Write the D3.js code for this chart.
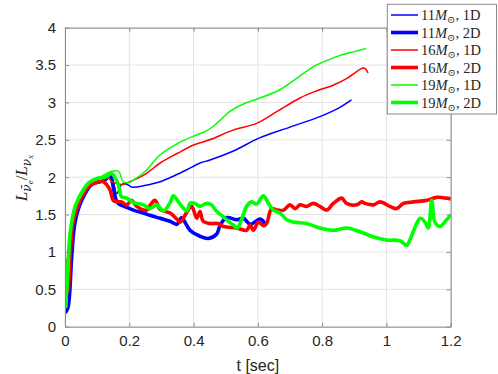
<!DOCTYPE html>
<html><head><meta charset="utf-8">
<script src="https://cdnjs.cloudflare.com/ajax/libs/d3/7.8.5/d3.min.js"></script>
<style>body{margin:0;background:#fff}svg{display:block}</style>
</head><body>
<svg id="c" width="498" height="374"></svg>
<script>
const xTicks = [0, 0.2, 0.4, 0.6, 0.8, 1, 1.2];
const yTicks = [0, 0.5, 1, 1.5, 2, 2.5, 3, 3.5, 4];
const xTickLabels = ["0", "0.2", "0.4", "0.6", "0.8", "1", "1.2"];
const yTickLabels = ["0", "0.5", "1", "1.5", "2", "2.5", "3", "3.5", "4"];
const seriesNames = ["11", "11", "16", "16", "19", "19"];
const seriesDims = ["1D", "2D", "1D", "2D", "1D", "2D"];
const seriesColors = ["#0000ff", "#0000ff", "#ff0000", "#ff0000", "#00ff00", "#00ff00"];

const t11_1D = [0.003,0.01,0.021,0.031,0.052,0.083,0.124,0.14,0.15,0.161,0.176,0.19,0.207,0.223,0.26,0.296,0.34,0.379,0.42,0.451,0.524,0.607,0.7,0.793,0.85,0.89];
const L11_1D = [0.2,0.27,0.94,1.39,1.69,1.90,1.97,2.04,1.95,1.78,1.90,1.91,1.87,1.87,1.90,1.94,2.02,2.10,2.19,2.23,2.35,2.53,2.67,2.81,2.92,3.03];

const t11_2D = [0.003,0.01,0.021,0.031,0.052,0.083,0.124,0.14,0.15,0.156,0.165,0.196,0.213,0.244,0.264,0.296,0.327,0.348,0.363,0.373,0.389,0.42,0.446,0.472,0.482,0.503,0.534,0.555,0.576,0.607,0.622];
const L11_2D = [0.2,0.27,0.94,1.39,1.69,1.90,1.96,2.03,1.87,1.74,1.65,1.59,1.56,1.52,1.49,1.45,1.41,1.37,1.46,1.40,1.29,1.21,1.18,1.24,1.35,1.46,1.43,1.45,1.37,1.44,1.38];

const t16_1D = [0.003,0.01,0.016,0.025,0.047,0.073,0.104,0.13,0.15,0.161,0.176,0.207,0.25,0.296,0.35,0.4,0.45,0.523,0.596,0.66,0.731,0.78,0.834,0.88,0.927,0.935,0.942];
const L16_1D = [0.4,0.5,0.94,1.39,1.72,1.91,1.98,2.0,1.93,1.92,1.90,1.95,2.04,2.19,2.32,2.43,2.50,2.63,2.72,2.88,3.06,3.15,3.23,3.33,3.46,3.45,3.40];

const t16_2D = [0.002,0.004,0.006,0.01,0.016,0.025,0.047,0.073,0.104,0.119,0.14,0.15,0.165,0.176,0.192,0.207,0.223,0.254,0.264,0.28,0.296,0.327,0.348,0.358,0.379,0.394,0.41,0.42,0.43,0.451,0.475,0.493,0.534,0.565,0.576,0.586,0.602,0.617,0.627,0.643,0.659,0.68,0.70,0.716,0.731,0.752,0.773,0.793,0.814,0.835,0.861,0.876,0.908,0.923,0.933,0.96,0.98,1.011,1.032,1.053,1.084,1.125,1.156,1.187,1.2];
const L16_2D = [0.85,0.88,0.45,0.49,0.94,1.39,1.69,1.87,1.94,1.94,1.83,1.69,1.67,1.67,1.63,1.69,1.61,1.56,1.62,1.69,1.57,1.52,1.44,1.40,1.53,1.61,1.45,1.54,1.41,1.38,1.38,1.34,1.32,1.29,1.36,1.29,1.40,1.35,1.38,1.58,1.56,1.56,1.63,1.58,1.63,1.61,1.65,1.61,1.56,1.65,1.72,1.65,1.63,1.67,1.65,1.63,1.67,1.61,1.58,1.65,1.67,1.69,1.73,1.72,1.71];

const t19_1D = [0.003,0.01,0.021,0.031,0.052,0.083,0.11,0.14,0.166,0.181,0.2,0.213,0.25,0.296,0.35,0.4,0.44,0.472,0.513,0.56,0.607,0.669,0.72,0.773,0.82,0.856,0.9,0.935];
const L19_1D = [0.25,0.6,1.4,1.62,1.82,1.95,2.0,2.07,2.08,1.94,1.93,1.96,2.08,2.30,2.45,2.55,2.62,2.72,2.88,2.99,3.06,3.17,3.32,3.48,3.57,3.63,3.68,3.72];

const t19_2D = [0.003,0.005,0.01,0.016,0.031,0.052,0.073,0.104,0.125,0.145,0.155,0.166,0.176,0.192,0.213,0.244,0.264,0.285,0.306,0.327,0.337,0.358,0.379,0.389,0.404,0.42,0.441,0.456,0.472,0.493,0.508,0.524,0.536,0.55,0.565,0.581,0.596,0.617,0.633,0.648,0.669,0.69,0.71,0.752,0.793,0.835,0.876,0.918,0.96,1.0,1.042,1.063,1.073,1.094,1.105,1.12,1.13,1.141,1.151,1.167,1.187,1.2];
const L19_2D = [0.27,0.5,0.9,1.25,1.6,1.79,1.92,1.99,2.0,2.05,2.0,1.9,1.74,1.72,1.66,1.63,1.58,1.63,1.55,1.66,1.75,1.64,1.55,1.65,1.65,1.61,1.65,1.63,1.54,1.47,1.41,1.36,1.32,1.44,1.61,1.67,1.64,1.75,1.65,1.56,1.52,1.43,1.40,1.38,1.32,1.29,1.32,1.27,1.20,1.16,1.15,1.09,1.16,1.38,1.45,1.40,1.32,1.69,1.40,1.34,1.43,1.49];

const seriesT = [t11_1D, t11_2D, t16_1D, t16_2D, t19_1D, t19_2D];
const seriesL = [L11_1D, L11_2D, L16_1D, L16_2D, L19_1D, L19_2D];

const svg = d3.select("#c");
const L = 65, R = 450.7, T = 27.7, B = 326.7;
const x = d3.scaleLinear().domain([0, 1.2]).range([L, R]);
const y = d3.scaleLinear().domain([0, 4]).range([B, T]);
const axisCol = "#8a8a8a", textCol = "#262626";
const tickFont = "'Liberation Sans', Arial, Helvetica, sans-serif";

// grid
const g = svg.append("g");
g.selectAll(".gx").data(xTicks).join("line")
  .attr("x1", d => x(d)).attr("x2", d => x(d)).attr("y1", T).attr("y2", B)
  .attr("stroke", "#e3e3e3").attr("stroke-width", 1);
g.selectAll(".gy").data(yTicks).join("line")
  .attr("y1", d => y(d)).attr("y2", d => y(d)).attr("x1", L).attr("x2", R)
  .attr("stroke", "#e3e3e3").attr("stroke-width", 1);

// series
svg.append("clipPath").attr("id", "pc").append("rect")
  .attr("x", L).attr("y", T).attr("width", R - L).attr("height", B - T);
const line = d3.line().x(d => x(d[0])).y(d => y(d[1])).curve(d3.curveCatmullRom.alpha(0.5));
const lg = svg.append("g").attr("clip-path", "url(#pc)");
seriesT.forEach((ts, i) => {
  const pts = ts.map((t, k) => [t, seriesL[i][k]]);
  lg.append("path").datum(pts).attr("d", line)
    .attr("fill", "none").attr("stroke", seriesColors[i])
    .attr("stroke-width", seriesDims[i] === "2D" ? 3.6 : 1.5)
    .attr("stroke-linejoin", "round").attr("stroke-linecap", "round");
});

// axes
const tk = 4;
const axB = svg.append("g").attr("transform", `translate(0,${B})`)
  .call(d3.axisBottom(x).tickValues(xTicks).tickFormat((d, i) => xTickLabels[i]).tickSizeInner(-tk).tickSizeOuter(0).tickPadding(9));
const axT = svg.append("g").attr("transform", `translate(0,${T})`)
  .call(d3.axisTop(x).tickValues(xTicks).tickFormat("").tickSizeInner(-tk).tickSizeOuter(0));
const axLf = svg.append("g").attr("transform", `translate(${L},0)`)
  .call(d3.axisLeft(y).tickValues(yTicks).tickFormat((d, i) => yTickLabels[i]).tickSizeInner(-tk).tickSizeOuter(0).tickPadding(9));
const axRt = svg.append("g").attr("transform", `translate(${R},0)`)
  .call(d3.axisRight(y).tickValues(yTicks).tickFormat("").tickSizeInner(-tk).tickSizeOuter(0));
[axB, axT, axLf, axRt].forEach(a => {
  a.select(".domain").attr("stroke", axisCol);
  a.selectAll(".tick line").attr("stroke", axisCol);
  a.selectAll("text").attr("fill", textCol).style("font-family", tickFont).style("font-size", "15px");
});
axB.selectAll("text").attr("dy", "0.71em");

// x label
svg.append("text").attr("x", (L + R) / 2).attr("y", 371).attr("text-anchor", "middle")
  .style("font-family", tickFont).style("font-size", "16px").attr("fill", textCol).text("t [sec]");

// y label (LaTeX-like)
const serif = "'Liberation Serif', 'DejaVu Serif', 'Times New Roman', serif";
const yl = svg.append("text").attr("transform", "translate(27,178) rotate(-90)")
  .attr("text-anchor", "middle").style("font-family", serif).style("font-size", "17px").attr("fill", textCol);
yl.append("tspan").style("font-style", "italic").text("L");
yl.append("tspan").attr("dy", 4).style("font-size", "12px").style("font-style", "italic")
  .style("font-family", "'DejaVu Serif', serif").text("ν\u0304");
yl.append("tspan").attr("dy", 2).style("font-size", "9px").style("font-style", "italic").text("e");
yl.append("tspan").attr("dy", -6).text("/");
yl.append("tspan").style("font-style", "italic").text("L");
yl.append("tspan").attr("dy", 4).style("font-size", "12px").style("font-style", "italic")
  .style("font-family", "'DejaVu Serif', serif").text("ν");
yl.append("tspan").attr("dy", 2).style("font-size", "9px").style("font-style", "italic").text("x");

// legend
const lx0 = 387.3, ly0 = 4.3, lw = 109.2, lh = 109.7;
svg.append("rect").attr("x", lx0).attr("y", ly0).attr("width", lw).attr("height", lh)
  .attr("fill", "#fff").attr("stroke", axisCol).attr("stroke-width", 1);
seriesNames.forEach((n, i) => {
  const cy = 15 + i * 17.5;
  svg.append("line").attr("x1", 391).attr("x2", 418).attr("y1", cy).attr("y2", cy)
    .attr("stroke", seriesColors[i]).attr("stroke-width", seriesDims[i] === "2D" ? 3.6 : 1.5);
  const tx = svg.append("text").attr("x", 421).attr("y", cy + 5)
    .style("font-family", serif).style("font-size", "14.5px").attr("fill", textCol);
  tx.append("tspan").text(n);
  tx.append("tspan").style("font-style", "italic").text("M");
  tx.append("tspan").attr("dy", 3).style("font-size", "10px").text("⊙");
  tx.append("tspan").attr("dy", -3).text(", " + seriesDims[i]);
});
</script>
</body></html>
